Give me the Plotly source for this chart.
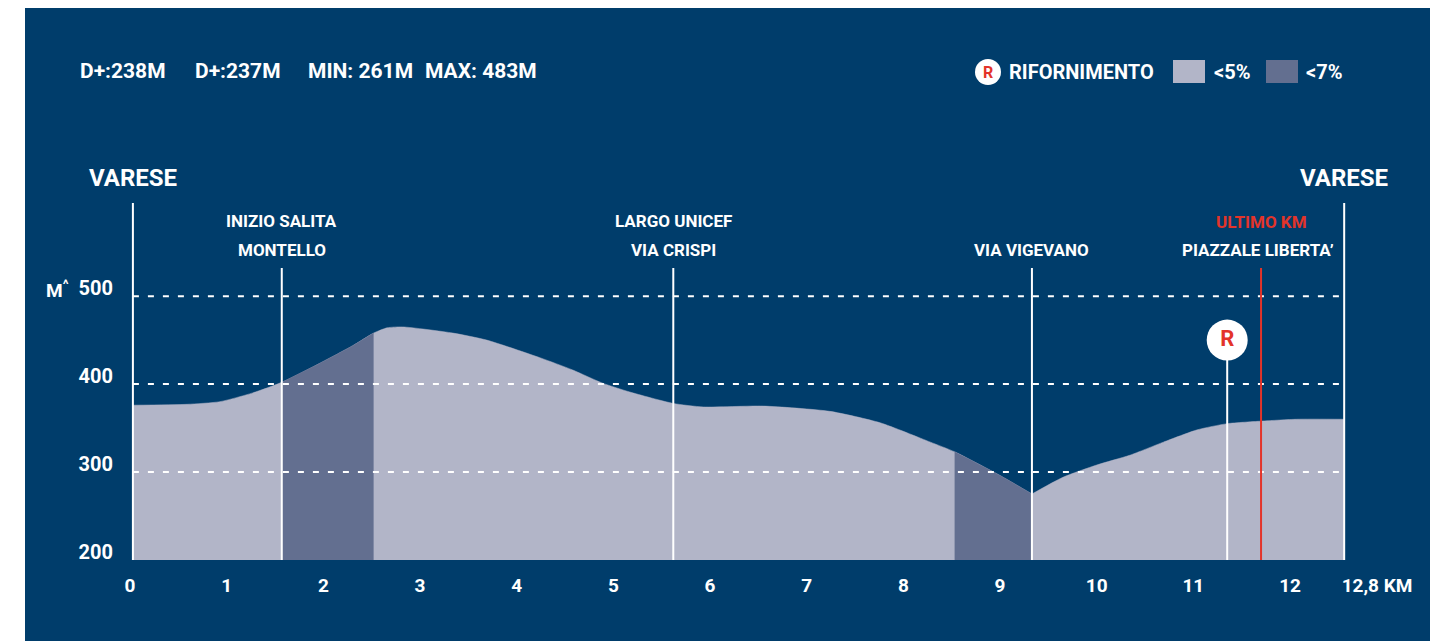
import plotly.graph_objects as go

# ---------------- data ----------------
distance_km = [0.03, 0.59, 0.93, 1.27, 1.57, 1.97, 2.31, 2.52, 2.66, 2.82, 3.34, 3.69,
               4.24, 4.58, 4.89, 5.17, 5.62, 5.93, 6.55, 7.24, 7.76, 8.28, 8.53, 9.00,
               9.33, 9.65, 10.00, 10.34, 10.69, 11.04, 11.35, 11.72, 12.07, 12.56]
elevation_m = [376, 377, 380, 390, 402, 424, 444, 458, 464, 465, 458, 450,
               430, 416, 401, 391, 378, 374, 375, 369, 356, 334, 323, 296,
               275, 294, 308, 319, 334, 348, 355, 358, 360, 360]

steep_segments = [(1.57, 2.52), (8.53, 9.33)]          # "<7%" sections
low_point_km = 9.33                                    # sharp valley (kept as a corner)

x_ticks = [0, 1, 2, 3, 4, 5, 6, 7, 8, 9, 10, 11, 12, 12.9]
x_tick_text = ["0", "1", "2", "3", "4", "5", "6", "7", "8", "9", "10", "11", "12", "12,8 KM"]
y_ticks = [200, 300, 400, 500]
y_tick_text = ["200", "300", "400", "500"]
grid_levels = [300, 400, 500]

start_km, end_km = 0.03, 12.56
poi = [
    (1.57, ["INIZIO SALITA", "MONTELLO"]),
    (5.62, ["LARGO UNICEF", "VIA CRISPI"]),
    (9.33, ["VIA VIGEVANO"]),
]
last_km_pos = 11.70
refuel_km = 11.35
refuel_m = 450

header_stats = ["D+:238M", "D+:237M", "MIN: 261M", "MAX: 483M"]

# ---------------- style ----------------
BG = "#003d6b"
LIGHT = "#b2b5c8"
DARK = "#636f90"
RED = "#e3342a"
WHITE = "#ffffff"
FONT = "Roboto, Liberation Sans Narrow, sans-serif"

OFF = 8
W, H = 1442 - OFF, 641 - OFF
ML, MR, MT, MB = 112, 22, 165, 81
PW, PH = W - ML - MR, H - MT - MB


def px(xp):
    return (xp - OFF - ML) / PW


def py(yp):
    return (H - MB - (yp - OFF)) / PH


def subset(a, b):
    xs = [d for d in distance_km if a - 1e-9 <= d <= b + 1e-9]
    ys = [e for d, e in zip(distance_km, elevation_m) if a - 1e-9 <= d <= b + 1e-9]
    return xs, ys


fig = go.Figure()

for a, b in [(start_km, low_point_km), (low_point_km, end_km)]:
    xs, ys = subset(a, b)
    fig.add_trace(go.Scatter(x=xs, y=ys, mode="lines", fill="tozeroy",
                             fillcolor=LIGHT, line=dict(width=0.5, color=LIGHT, shape="spline",
                                                        smoothing=0.6),
                             hoverinfo="skip"))
for a, b in steep_segments:
    xs, ys = subset(a, b)
    fig.add_trace(go.Scatter(x=xs, y=ys, mode="lines", fill="tozeroy",
                             fillcolor=DARK, line=dict(width=0.5, color=DARK, shape="spline",
                                                       smoothing=0.6),
                             hoverinfo="skip"))

for g in grid_levels:
    fig.add_trace(go.Scatter(x=[start_km, end_km], y=[g, g], mode="lines",
                             line=dict(color=WHITE, width=2, dash="6px,9px"),
                             hoverinfo="skip"))

LAB = dict(family=FONT, size=17, color=WHITE, weight=700)

for xk in (start_km, end_km):
    fig.add_trace(go.Scatter(x=[xk, xk], y=[200, 606], mode="lines",
                             line=dict(color=WHITE, width=2), hoverinfo="skip"))
    fig.add_annotation(x=xk, y=634, xref="x", yref="y", text="VARESE",
                       showarrow=False, font=dict(family=FONT, size=24, color=WHITE, weight=700))

for xk, lines in poi:
    fig.add_trace(go.Scatter(x=[xk, xk], y=[200, 532], mode="lines",
                             line=dict(color=WHITE, width=2), hoverinfo="skip"))
    ys_lab = [585, 553] if len(lines) == 2 else [553]
    for t, yl in zip(lines, ys_lab):
        fig.add_annotation(x=xk, y=yl, xref="x", yref="y", text=t, showarrow=False, font=LAB)

fig.add_trace(go.Scatter(x=[last_km_pos, last_km_pos], y=[200, 532], mode="lines",
                         line=dict(color=RED, width=2), hoverinfo="skip"))
fig.add_annotation(x=last_km_pos, y=584, xref="x", yref="y", text="ULTIMO KM", showarrow=False,
                   font=dict(family=FONT, size=17, color=RED, weight=700))
fig.add_annotation(x=last_km_pos - 0.03, y=553, xref="x", yref="y", text="PIAZZALE LIBERTA’",
                   showarrow=False, font=LAB)

fig.add_trace(go.Scatter(x=[refuel_km, refuel_km], y=[200, refuel_m], mode="lines",
                         line=dict(color=WHITE, width=2), hoverinfo="skip"))
fig.add_trace(go.Scatter(x=[refuel_km], y=[refuel_m], mode="markers+text", text=["R"],
                         textposition="middle center", cliponaxis=False,
                         textfont=dict(family=FONT, size=22, color=RED, weight=700),
                         marker=dict(size=41, color=WHITE, line=dict(width=0)),
                         hoverinfo="skip"))

fig.add_annotation(x=px(57), y=py(289), xref="paper", yref="paper", text="M<sup>^</sup>",
                   xanchor="center", yanchor="middle",
                   showarrow=False, font=dict(family=FONT, size=19, color=WHITE, weight=700))

for t, xl in zip(header_stats, [78, 193, 306, 423]):
    fig.add_annotation(x=px(xl), y=py(71), xref="paper", yref="paper", text=t,
                       xanchor="left", yanchor="middle", showarrow=False,
                       font=dict(family=FONT, size=21, color=WHITE, weight=700))

shapes = [
    dict(type="rect", xref="paper", yref="paper", x0=px(25), x1=px(1430), y0=py(641), y1=py(5),
         fillcolor=BG, line=dict(width=0), layer="below"),
    dict(type="circle", xref="paper", yref="paper", x0=px(975), x1=px(1001), y0=py(85), y1=py(59),
         fillcolor=WHITE, line=dict(width=0)),
    dict(type="rect", xref="paper", yref="paper", x0=px(1173), x1=px(1205), y0=py(83), y1=py(60),
         fillcolor=LIGHT, line=dict(width=0)),
    dict(type="rect", xref="paper", yref="paper", x0=px(1266), x1=px(1298), y0=py(83), y1=py(60),
         fillcolor=DARK, line=dict(width=0)),
]
fig.add_annotation(x=px(988), y=py(72), xref="paper", yref="paper", text="R", showarrow=False,
                   xanchor="center", yanchor="middle",
                   font=dict(family=FONT, size=16, color=RED, weight=700))
for t, xl in [("RIFORNIMENTO", 1007), ("<5%", 1212), ("<7%", 1304)]:
    fig.add_annotation(x=px(xl), y=py(72), xref="paper", yref="paper", text=t,
                       xanchor="left", yanchor="middle", showarrow=False,
                       font=dict(family=FONT, size=20, color=WHITE, weight=700))

fig.update_layout(
    width=W, height=H,
    margin=dict(l=ML, r=MR, t=MT, b=MB, pad=0),
    paper_bgcolor=WHITE, plot_bgcolor=BG,
    showlegend=False, shapes=shapes,
    xaxis=dict(range=[(ML + OFF - 130) / 96.67, (ML + OFF + PW - 130) / 96.67], showgrid=False,
               zeroline=False, showline=False, tickvals=x_ticks, ticktext=x_tick_text,
               ticks="", ticklabelstandoff=12,
               tickfont=dict(family=FONT, size=19, color=WHITE, weight=700), fixedrange=True),
    yaxis=dict(range=[200, 640], showgrid=False, zeroline=False, showline=False,
               tickvals=y_ticks, ticktext=y_tick_text, ticks="", ticklabelshift=-8,
               ticklabelstandoff=6,
               tickfont=dict(family=FONT, size=20, color=WHITE, weight=700), fixedrange=True),
)

fig.write_html("out.html")
